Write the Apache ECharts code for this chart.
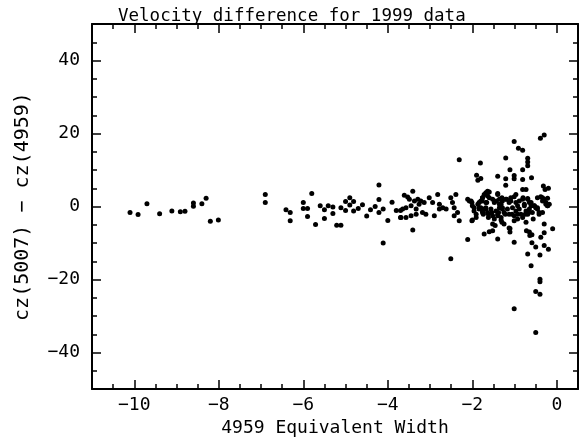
<!DOCTYPE html>
<html><head><meta charset="utf-8">
<script src="https://cdn.jsdelivr.net/npm/echarts@6/dist/echarts.min.js"></script>
<style>html,body{margin:0;padding:0;background:#fff}#c{width:579px;height:442px}</style>
</head><body><div id="c"></div>
<script>
const titleText = 'Velocity difference for 1999 data';
const xName = '4959 Equivalent Width';
const yName = 'cz(5007) \u2212 cz(4959)';
const xMajor = [-10, -8, -6, -4, -2, 0];
const yMajor = [-40, -20, 0, 20, 40];

// [equivalent width, velocity difference]
const farLeft = [[-10.10,-1.6],[-9.91,-2.2],[-9.70,0.8],[-9.40,-2.0],[-9.11,-1.2],[-8.91,-1.4],[-8.80,-1.3],[-8.60,1.0],[-8.60,0.1],[-8.40,0.8],[-8.30,2.3],[-8.20,-4.0],[-8.01,-3.7]];
const midRange = [[-6.90,3.3],[-6.90,1.1],[-6.41,-0.9],[-6.31,-1.6],[-6.31,-3.9],[-6.00,1.1],[-6.00,-0.5],[-5.90,-0.5],[-5.90,-2.7],[-5.80,3.6],[-5.71,-4.9],[-5.60,0.2],[-5.50,-0.9],[-5.50,-3.3],[-5.41,0.2],[-5.30,-0.1],[-5.30,-1.9],[-5.21,-5.1],[-5.11,-5.1],[-5.11,-0.3],[-5.00,1.4],[-5.00,-1.1],[-4.90,2.4],[-4.90,0.4],[-4.81,1.4],[-4.81,-1.2],[-4.70,-0.5],[-4.60,0.5],[-4.50,-2.6],[-4.41,-0.9],[-4.30,0.0],[-4.21,5.9],[-4.21,1.9],[-4.21,-1.6],[-4.11,-0.7],[-4.11,-10.0],[-4.00,-3.8],[-3.90,1.2],[-3.80,-1.1],[-3.70,-1.1],[-3.70,-3.0]];
const innerBand = [[-3.61,3.1],[-3.53,2.6],[-3.41,4.2],[-3.49,2.0],[-3.37,1.5],[-3.29,2.0],[-3.22,1.5],[-3.14,1.1],[-3.02,2.4],[-2.94,1.1],[-2.82,3.3],[-2.78,0.6],[-2.70,-0.3],[-2.62,-0.7],[-3.65,-0.7],[-3.57,-0.3],[-3.45,0.2],[-3.33,-0.7],[-3.26,0.6],[-3.18,-1.6],[-3.10,-2.1],[-3.69,-3.0],[-3.57,-3.0],[-3.45,-2.5],[-3.33,-2.1],[-2.90,-2.5],[-2.78,-0.7],[-2.51,2.4],[-2.47,1.1],[-2.43,-0.3],[-2.39,3.3],[-2.35,-1.6],[-2.31,-3.9],[-2.43,-2.5],[-2.11,2.0],[-2.03,1.5],[-2.00,0.2],[-1.96,-1.2],[-1.91,-3.0],[-1.87,0.6],[-1.84,-0.3],[-1.80,1.5],[-1.76,-1.6],[-1.72,-0.7],[-1.68,1.1],[-1.64,3.8],[-1.62,-2.1],[-2.01,-3.9]];
const coreBand = [[-2.07,1.5],[-2.01,1.1],[-2.00,-3.7],[-1.96,-0.3],[-1.91,-2.1],[-1.80,-0.3],[-1.77,1.5],[-1.76,2.4],[-1.74,-2.1],[-1.72,3.3],[-1.68,-0.7],[-1.66,1.1],[-1.64,4.2],[-1.62,-3.0],[-1.60,2.4],[-1.56,-0.7],[-1.54,-1.6],[-1.52,-6.6],[-1.48,-3.4],[-1.46,-5.2],[-1.43,1.5],[-1.40,-2.5],[-1.40,3.3],[-1.38,-1.6],[-1.36,0.6],[-1.32,-3.7],[-1.30,2.4],[-1.29,-0.3],[-1.25,-4.8],[-1.22,-2.1],[-1.19,2.0],[-1.17,-0.7],[-1.13,-5.9],[-1.11,-7.0],[-1.09,1.5],[-1.06,-2.1],[-1.01,-3.9],[-0.97,3.3],[-0.93,0.2],[-0.93,-2.1],[-0.81,7.4],[-0.80,2.4],[-0.77,0.2],[-0.75,-2.1],[-0.73,-4.3],[-0.69,2.0],[-0.67,-1.6],[-0.65,-7.0],[-0.64,-7.9],[-0.61,1.1],[-0.58,-1.6],[-0.56,-3.4],[-0.54,0.2],[-0.50,-0.3],[-0.50,-11.1],[-0.46,-0.7],[-0.42,-1.6],[-0.38,-8.4],[-0.34,2.4],[-0.32,5.6],[-0.30,-4.8],[-0.28,4.7],[-0.26,0.6],[-0.22,2.3],[-0.22,0.2],[-0.20,5.0]];
const upperBand = [[-1.84,1.1],[-1.76,2.4],[-1.68,3.8],[-1.64,2.9],[-1.60,4.0],[-1.52,2.0],[-1.48,1.1],[-1.40,3.6],[-1.36,2.0],[-1.32,0.6],[-1.29,1.5],[-1.21,2.0],[-1.13,1.1],[-1.09,2.4],[-1.01,2.7],[-0.97,1.1],[-0.89,1.5],[-0.81,2.0],[-0.77,0.6],[-0.69,2.2],[-0.65,1.1],[-0.61,0.2],[-0.46,2.4],[-0.38,2.7],[-0.34,1.5],[-0.30,2.0],[-0.26,1.1],[-0.22,0.2]];
const lowerBand = [[-1.84,-0.7],[-1.76,-1.2],[-1.68,-0.3],[-1.64,-1.6],[-1.52,-2.5],[-1.44,-1.2],[-1.40,-2.1],[-1.36,-0.3],[-1.32,-3.0],[-1.29,-0.7],[-1.25,-1.6],[-1.13,-2.1],[-1.05,-0.3],[-1.01,-2.5],[-0.97,-1.2],[-0.93,-3.4],[-0.89,-0.7],[-0.85,-2.1],[-0.81,-3.0],[-0.73,-1.2],[-0.69,-2.1],[-0.65,-0.7],[-0.53,0.2],[-0.46,-0.3],[-0.42,-2.1],[-0.34,-1.6],[-0.18,0.6]];
const highPts = [[-2.31,12.8],[-1.81,11.9],[-1.90,8.6],[-1.87,7.2],[-1.80,7.7],[-1.01,17.8],[-0.91,16.0],[-0.81,15.4],[-1.21,13.3],[-0.69,13.2],[-0.69,12.2],[-0.69,11.2],[-1.11,10.1],[-0.81,10.1],[-1.40,8.3],[-1.21,7.6],[-1.21,5.8],[-1.01,8.5],[-1.01,7.6],[-0.60,7.9],[-0.81,4.7],[-0.73,4.7],[-0.39,18.7],[-0.30,19.6]];
const lowPts = [[-3.41,-6.4],[-2.51,-14.3],[-2.11,-9.0],[-1.72,-7.5],[-1.60,-6.9],[-1.40,-8.9],[-1.11,-6.0],[-1.01,-9.8],[-0.72,-6.6],[-0.59,-7.7],[-0.59,-9.9],[-0.30,-7.2],[-0.30,-10.7],[-0.20,-11.7],[-0.10,-6.1],[-0.69,-13.0],[-0.40,-13.3],[-0.61,-16.2],[-0.40,-19.9],[-0.40,-20.6],[-0.50,-23.3],[-0.40,-24.0],[-1.01,-28.0],[-0.50,-34.5],[-1.52,-4.8],[-1.30,-4.3]];

const FONT = '"DejaVu Sans Mono", monospace';
const fmt = v => (v < 0 ? '\u2212' : '') + Math.abs(v);
const lineStyle = { color: '#000', width: 2 };
const tickStyle = { color: '#000', width: 1.5 };

function majorAxis(pos, min, max, ticks, showLabels, extra) {
  return Object.assign({
    type: 'value', position: pos, min: min, max: max,
    axisLine: { show: true, onZero: false, lineStyle: lineStyle },
    axisTick: { show: true, inside: true, length: 9, customValues: ticks, lineStyle: tickStyle },
    axisLabel: { show: showLabels, customValues: ticks, formatter: fmt, color: '#000', fontSize: 18, fontFamily: FONT },
    splitLine: { show: false }
  }, extra || {});
}
function minorAxis(pos, min, max, step) {
  return {
    type: 'value', position: pos, min: min, max: max, interval: step,
    axisLine: { show: false, onZero: false },
    axisTick: { show: true, inside: true, length: 5, lineStyle: tickStyle },
    axisLabel: { show: false }, splitLine: { show: false }
  };
}

const allPts = [].concat(farLeft, midRange, innerBand, coreBand, upperBand, lowerBand, highPts, lowPts);

const chart = echarts.init(document.getElementById('c'), null, { renderer: 'canvas' });
chart.setOption({
  animation: false,
  backgroundColor: '#fff',
  title: { text: titleText, left: 113, top: 2, textStyle: { fontFamily: FONT, fontSize: 17.5, fontWeight: 'normal', color: '#000' } },
  grid: { left: 92, right: 1, top: 24, bottom: 48, containLabel: false },
  xAxis: [
    majorAxis('bottom', -11, 0.5, xMajor, true, {
      name: xName, nameLocation: 'middle', nameGap: 21,
      nameTextStyle: { fontFamily: FONT, fontSize: 18, color: '#000' },
      axisLabel: { show: true, customValues: xMajor, formatter: fmt, color: '#000', fontSize: 18, fontFamily: FONT, margin: 7 }
    }),
    minorAxis('bottom', -11, 0.5, 0.5),
    majorAxis('top', -11, 0.5, xMajor, false),
    minorAxis('top', -11, 0.5, 0.5)
  ],
  yAxis: [
    majorAxis('left', -50, 50, yMajor, true, {
      name: yName, nameLocation: 'middle', nameGap: 59, nameRotate: 90,
      nameTextStyle: { fontFamily: FONT, fontSize: 20, color: '#000' },
      axisLabel: { show: true, customValues: yMajor, formatter: fmt, color: '#000', fontSize: 18, fontFamily: FONT, margin: 12 }
    }),
    minorAxis('left', -50, 50, 5),
    majorAxis('right', -50, 50, yMajor, false),
    minorAxis('right', -50, 50, 5)
  ],
  series: [{
    type: 'scatter', xAxisIndex: 0, yAxisIndex: 0,
    data: allPts, symbol: 'circle', symbolSize: 5,
    itemStyle: { color: '#000', opacity: 1 }, emphasis: { disabled: true }, silent: true
  }]
});
</script></body></html>
